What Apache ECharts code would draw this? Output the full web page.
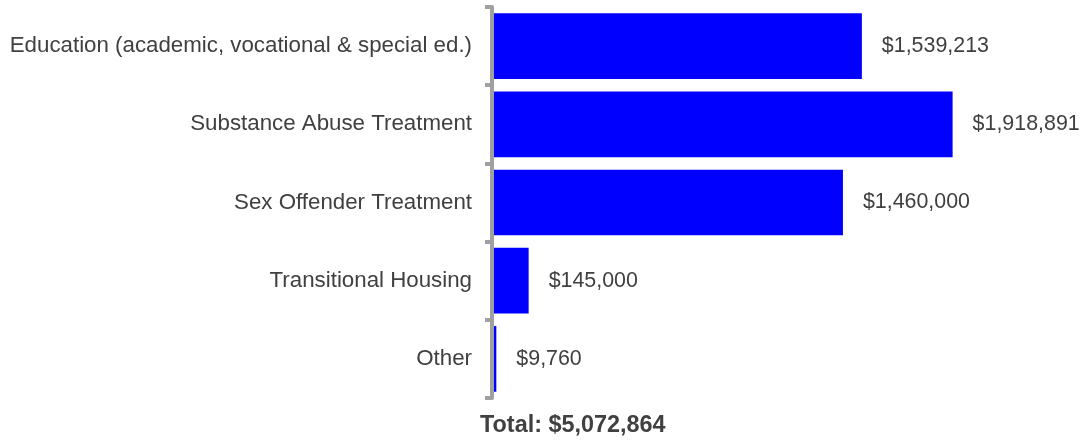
<!DOCTYPE html>
<html>
<head>
<meta charset="utf-8">
<script src="https://cdn.jsdelivr.net/npm/echarts@6/dist/echarts.min.js"></script>
<style>
  html, body { margin: 0; padding: 0; background: #ffffff; }
  #chart { width: 1082px; height: 440px; }
</style>
</head>
<body>
<div id="chart"></div>
<script>
// Program spending by category (dollars)
const categories = [
  'Education (academic, vocational & special ed.)',
  'Substance Abuse Treatment',
  'Sex Offender Treatment',
  'Transitional Housing',
  'Other'
];
const spending = [1539213, 1918891, 1460000, 145000, 9760];
const totalLabel = 'Total: ';

const fmt = v => '$' + v.toLocaleString('en-US');
const total = spending.reduce((a, b) => a + b, 0);
const font = '"Liberation Sans", Arial, sans-serif';

const chart = echarts.init(document.getElementById('chart'), null, { renderer: 'canvas' });
chart.setOption({
  animation: false,
  backgroundColor: '#ffffff',
  textStyle: { fontFamily: font },
  title: {
    text: totalLabel + fmt(total),
    left: 480,
    top: 414,
    padding: 0,
    textStyle: {
      fontFamily: font,
      fontSize: 23.4,
      fontWeight: 'bold',
      color: '#404040'
    }
  },
  grid: { left: 494, right: 110, top: 7, bottom: 42, containLabel: false },
  xAxis: {
    type: 'value',
    min: 0,
    max: 2000000,
    show: false
  },
  yAxis: {
    type: 'category',
    data: categories,
    inverse: true,
    offset: 2,
    axisLine: { show: true, onZero: false, lineStyle: { color: '#a0a0a0', width: 4 } },
    axisTick: { show: true, length: 7, alignWithLabel: false, lineStyle: { color: '#a0a0a0', width: 4 } },
    axisLabel: {
      margin: 20,
      fontSize: 22.3,
      color: '#404040',
      fontFamily: font
    },
    splitLine: { show: false }
  },
  series: [{
    type: 'bar',
    data: spending,
    barCategoryGap: '16%',
    itemStyle: { color: '#0000ff' },
    label: {
      show: true,
      position: 'right',
      distance: 20,
      fontSize: 21.4,
      color: '#404040',
      fontFamily: font,
      formatter: p => fmt(p.value)
    }
  }]
});
</script>
</body>
</html>
